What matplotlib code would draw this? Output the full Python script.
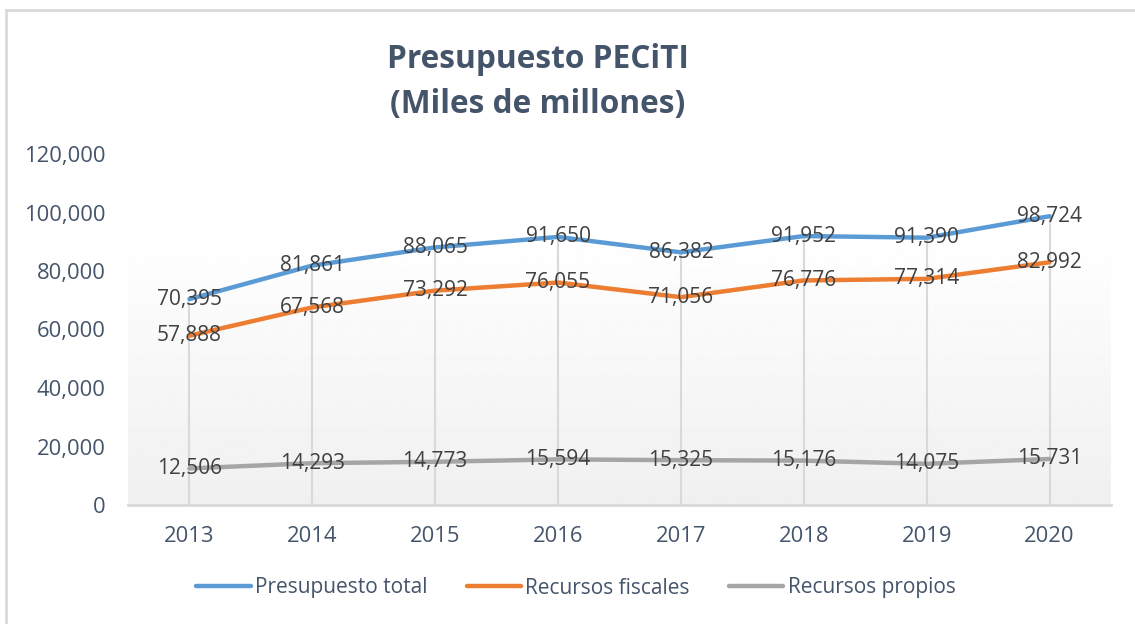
import numpy as np
import matplotlib.pyplot as plt
from matplotlib.lines import Line2D

plt.rcParams['font.family'] = ['Open Sans', 'DejaVu Sans']

# data
years = ['2013', '2014', '2015', '2016', '2017', '2018', '2019', '2020']
presupuesto_total = [70395, 81861, 88065, 91650, 86382, 91952, 91390, 98724]
recursos_fiscales = [57888, 67568, 73292, 76055, 71056, 76776, 77314, 82992]
recursos_propios = [12506, 14293, 14773, 15594, 15325, 15176, 14075, 15731]

series = [
    ('Presupuesto total', presupuesto_total, '#5b9bd5'),
    ('Recursos fiscales', recursos_fiscales, '#ed7d31'),
    ('Recursos propios', recursos_propios, '#a5a5a5'),
]

text_col = '#44546a'
label_col = '#404040'

fig = plt.figure(figsize=(11.35, 6.24), dpi=100)
ax = fig.add_axes([128 / 1135, 1 - 505 / 624, (1111 - 128) / 1135, (505 - 154) / 624])

x = np.arange(len(years))
ax.set_xlim(-0.5, len(years) - 0.5)
ax.set_ylim(0, 120000)

# plot area gradient (white at top, light gray at bottom)
grad = np.linspace(0.94, 1.0, 256).reshape(-1, 1)
ax.imshow(grad, cmap='gray', vmin=0, vmax=1, origin='lower', aspect='auto',
          extent=(0, 1, 0, 0.778), transform=ax.transAxes, zorder=0)

# drop lines from the highest series down to the axis
tops = np.max([s[1] for s in series], axis=0)
ax.vlines(x, 0, tops, color='#d9d9d9', lw=1.5, zorder=1)

for name, vals, col in series:
    ax.plot(x, vals, color=col, lw=3.2, solid_capstyle='round', zorder=2)
    for xi, v in zip(x, vals):
        ax.text(xi, v, f'{v:,}', ha='center', va='center', fontsize=15,
                color=label_col, zorder=3)

for s in ['left', 'right', 'top']:
    ax.spines[s].set_visible(False)
ax.spines['bottom'].set_color('#d9d9d9')
ax.spines['bottom'].set_linewidth(2)

ax.set_xticks(x)
ax.set_xticklabels(years)
ax.set_yticks(np.arange(0, 120001, 20000))
ax.set_yticklabels([f'{v:,}' for v in range(0, 120001, 20000)])
ax.tick_params(axis='both', length=0, labelsize=15.8, labelcolor=text_col)
ax.tick_params(axis='y', pad=16)
ax.tick_params(axis='x', pad=15)

fig.text(538 / 1135, 1 - 82 / 624, 'Presupuesto PECiTI\n(Miles de millones)',
         ha='center', va='center', fontsize=22.8, fontweight='bold',
         color=text_col, linespacing=1.45)

handles = [Line2D([], [], color=c, lw=3.2, solid_capstyle='round') for _, _, c in series]
leg = fig.legend(handles, [s[0] for s in series], loc='center', ncol=3,
                 bbox_to_anchor=(576 / 1135, 1 - 588 / 624), frameon=False,
                 fontsize=15, handlelength=2.6, handletextpad=0.2, columnspacing=1.9)
for t in leg.get_texts():
    t.set_color(text_col)

# chart border
fig.add_artist(Line2D([6 / 1135, 6 / 1135], [0, 1 - 10 / 624], transform=fig.transFigure,
                      color='#d9d9d9', lw=2))
fig.add_artist(Line2D([6 / 1135, 1], [1 - 10 / 624, 1 - 10 / 624], transform=fig.transFigure,
                      color='#d9d9d9', lw=2))

fig.savefig('out.png', dpi=100)
